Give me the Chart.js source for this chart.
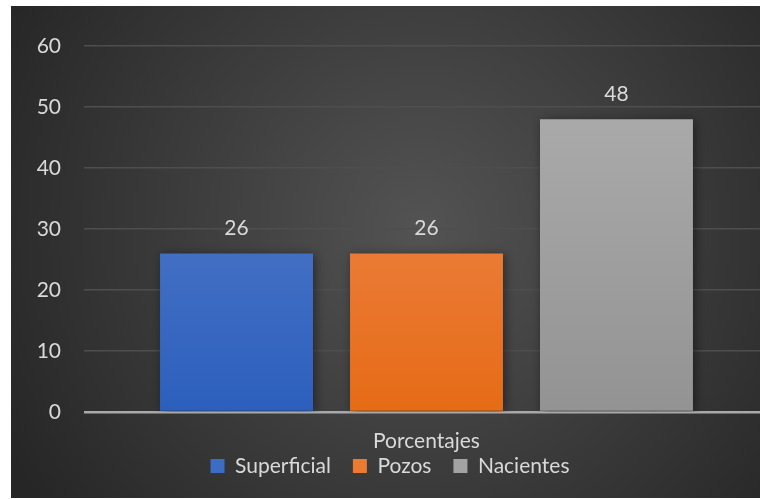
<!DOCTYPE html>
<html>
<head>
<meta charset="utf-8">
<script src="https://cdn.jsdelivr.net/npm/chart.js@4.4.1/dist/chart.umd.min.js"></script>
<style>
  html, body { margin: 0; padding: 0; background: #ffffff; overflow: hidden; }
  #caja { position: absolute; left: 11px; top: 6px; width: 760px; height: 492px; }
</style>
</head>
<body>
<div id="caja"><canvas id="grafico"></canvas></div>
<script>
// Datos
const categorias = ['Porcentajes']
const series = ['Superficial', 'Pozos', 'Nacientes']
const valores = [[26], [26], [48]]
const ticksY = [0, 10, 20, 30, 40, 50, 60]

const coloresArriba = ['#5e83cc', '#f08e5c', '#afafaf']
const coloresAbajo = ['#2c5fbd', '#e66b16', '#939393']
const coloresLeyenda = ['#3d6cc4', '#ec7a30', '#a3a3a3']

const fuente = "Lato, 'Open Sans', sans-serif"
const colorTexto = '#d9d9d9'

function degradado(ctx, i) {
    const area = ctx.chart.chartArea
    if (!area) return coloresAbajo[i]
    const g = ctx.chart.ctx.createLinearGradient(0, area.top, 0, area.bottom)
    g.addColorStop(0, coloresArriba[i])
    g.addColorStop(1, coloresAbajo[i])
    return g
}

// Fondo oscuro con degradado radial
const fondo = {
    id: 'fondo',
    beforeDraw(chart) {
        const { ctx, width, height } = chart
        const g = ctx.createRadialGradient(width * 0.54, height * 0.45, 0, width * 0.54, height * 0.45, width * 0.62)
        g.addColorStop(0, '#535353')
        g.addColorStop(1, '#262626')
        ctx.save()
        ctx.fillStyle = g
        ctx.fillRect(0, 0, width, height)
        ctx.restore()
    }
}

// Sombra de las barras
const sombra = {
    id: 'sombra',
    beforeDatasetDraw(chart) {
        const ctx = chart.ctx
        ctx.save()
        ctx.shadowColor = 'rgba(0,0,0,0.45)'
        ctx.shadowBlur = 10
        ctx.shadowOffsetX = 2
        ctx.shadowOffsetY = 2
    },
    afterDatasetDraw(chart) {
        chart.ctx.restore()
    }
}

// Etiquetas de valor encima de cada barra
const etiquetas = {
    id: 'etiquetas',
    afterDatasetsDraw(chart) {
        const ctx = chart.ctx
        ctx.save()
        ctx.font = '21px ' + fuente
        ctx.fillStyle = colorTexto
        ctx.textAlign = 'center'
        ctx.textBaseline = 'middle'
        chart.data.datasets.forEach((ds, i) => {
            chart.getDatasetMeta(i).data.forEach((bar, j) => {
                ctx.fillText(ds.data[j], bar.x, bar.y - 25)
            })
        })
        ctx.restore()
    }
}

new Chart(document.getElementById('grafico'), {
    type: 'bar',
    data: {
        labels: categorias,
        datasets: series.map((nombre, i) => ({
            label: nombre,
            data: valores[i],
            backgroundColor: ctx => degradado(ctx, i),
            borderWidth: 0
        }))
    },
    options: {
        responsive: true,
        maintainAspectRatio: false,
        animation: false,
        categoryPercentage: 0.832,
        barPercentage: 0.805,
        layout: { padding: { top: 40, right: 2, bottom: 11.5, left: 0 } },
        scales: {
            x: {
                grid: { display: false, drawTicks: false },
                border: { display: false },
                ticks: { display: false },
                // la categoría se muestra como título bajo el eje
                title: {
                    display: true,
                    text: categorias[0],
                    color: colorTexto,
                    font: { family: fuente, size: 21 },
                    padding: { top: 16.4, bottom: -20.1 }
                }
            },
            y: {
                min: 0,
                max: 60,
                afterBuildTicks: axis => { axis.ticks = ticksY.map(v => ({ value: v })) },
                afterFit: axis => { axis.width = 73 },
                border: { display: false },
                grid: {
                    drawTicks: false,
                    color: c => c.tick && c.tick.value === 0 ? '#a9a9a9' : '#4e4e4e',
                    lineWidth: c => c.tick && c.tick.value === 0 ? 2.5 : 1.5
                },
                ticks: { color: colorTexto, font: { family: fuente, size: 21 }, padding: 23 }
            }
        },
        plugins: {
            legend: {
                position: 'bottom',
                labels: {
                    color: colorTexto,
                    font: { family: fuente, size: 21 },
                    boxWidth: 14,
                    boxHeight: 14,
                    padding: 22,
                    generateLabels: chart => chart.data.datasets.map((ds, i) => ({
                        text: ds.label,
                        fillStyle: coloresLeyenda[i],
                        strokeStyle: coloresLeyenda[i],
                        lineWidth: 0,
                        fontColor: colorTexto,
                        datasetIndex: i
                    }))
                }
            },
            tooltip: { enabled: false }
        }
    },
    plugins: [fondo, sombra, etiquetas]
})
</script>
</body>
</html>
